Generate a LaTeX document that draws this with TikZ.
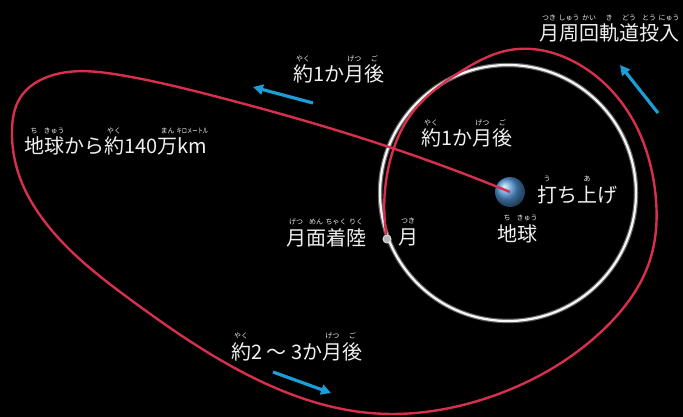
\documentclass[tikz,border=0pt]{standalone}
\usepackage{fontspec}
\setmainfont{Noto Sans CJK JP}
\usepackage{graphicx}
\usepackage{tikz}
\usetikzlibrary{arrows.meta,hobby}

\definecolor{orbitred}{RGB}{214,48,78}
\definecolor{flowblue}{RGB}{26,158,214}
\definecolor{labelwhite}{RGB}{240,240,240}
\definecolor{earthblue}{RGB}{80,150,215}

% reading set small above its base
\newcommand\furi[2]{\leavevmode\setbox0\hbox{#1}%
  \rlap{\hbox to\wd0{\hss\raisebox{20.5pt}{\fontsize{7}{7}\selectfont #2}\hss}}\box0\relax}

\begin{document}
\begin{tikzpicture}[
  x=1pt, y=-1pt,
  lbl/.style={text=labelwhite, font=\fontsize{20}{20}\selectfont, anchor=base west, inner sep=0pt},
  flow/.style={draw=flowblue, line width=3.2pt, -{Triangle[length=10pt,width=10pt]}},
  traj/.style={draw=orbitred, line width=2.4pt, use Hobby shortcut},
  moondot/.style={circle, minimum size=8pt, inner sep=0pt, fill=gray!55, draw=white!80!gray, line width=0.6pt}
]

% black sky
\fill[black] (0,0) rectangle (683,417);
\useasboundingbox (0,0) rectangle (683,417);

% Moon orbit
\draw[gray!70, line width=4.5pt, opacity=0.6] (508,193) circle[radius=128];
\draw[white!92!gray, line width=2.2pt] (508,193) circle[radius=128];

% Earth and Moon
\node[circle, minimum size=30pt, inner sep=0pt, shading=ball, ball color=earthblue] (earth) at (510,192) {};
\node[moondot] (moon) at (387,239) {};

% Trajectory
\draw[traj] (earth.center) .. (392,148) .. (218,97) .. (120,75) .. (50,76) .. (20,98)
  .. (12,130) .. (20,178) .. (42,218) .. (131,300) .. (244,373) .. (370,413)
  .. (487,398) .. (603,330) .. (650,260) .. (655,190) .. (630,115) .. (580,65)
  .. (510,50) .. (460,72) .. (412,113) .. (389,165) .. (moon.center);
\node[moondot] at (moon) {};

% Direction arrows
\coordinate (out1) at (313,103);
\coordinate (out2) at (253,87);
\coordinate (back1) at (273,372);
\coordinate (back2) at (331,393);
\coordinate (ins1) at (658,113);
\coordinate (ins2) at (620,65);
\draw[flow] (out1) -- (out2);
\draw[flow] (back1) -- (back2);
\draw[flow] (ins1) -- (ins2);

% Labels
\node[lbl] (insert) at (539,41) {\furi{月}{つき}\furi{周}{しゅう}\furi{回}{かい}\furi{軌}{き}\furi{道}{どう}\furi{投}{とう}\furi{入}{にゅう}};
\node[lbl] (month1) at (293,82) {\furi{約}{やく}1か\furi{月}{げつ}\furi{後}{ご}};
\node[lbl] (dist) at (24,154) {\furi{地}{ち}\furi{球}{きゅう}から\furi{約}{やく}140\furi{万}{まん}\furi{km}{\scalebox{0.75}[1]{キロメートル}}};
\node[lbl] (month1in) at (421,146) {\furi{約}{やく}1か\furi{月}{げつ}\furi{後}{ご}};
\node[lbl] (launch) at (537,202) {\furi{打}{う}ち\furi{上}{あ}げ};
\node[lbl] (earthlbl) at (497,241) {\furi{地}{ち}\furi{球}{きゅう}};
\node[lbl] (moonlbl) at (398,244) {\furi{月}{つき}};
\node[lbl] (landing) at (286,245) {\furi{月}{げつ}\furi{面}{めん}\furi{着}{ちゃく}\furi{陸}{りく}};
\node[lbl] (month23) at (231,359) {\furi{約}{やく}2 ～ 3か\furi{月}{げつ}\furi{後}{ご}};

\end{tikzpicture}
\end{document}
